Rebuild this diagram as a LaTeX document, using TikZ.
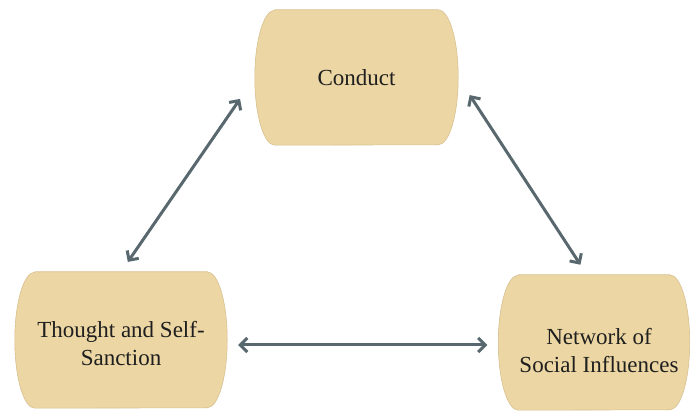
\documentclass[tikz,border=0pt]{standalone}
\usepackage{fontspec}
\setmainfont{Liberation Serif}
\usetikzlibrary{arrows.meta}
\definecolor{paper}{RGB}{236,214,163}
\definecolor{paperedge}{RGB}{218,195,146}
\definecolor{slate}{RGB}{88,104,110}
\tikzset{
  box/.style={minimum width=#1, inner sep=0pt, align=center, minimum height=135pt,
    font=\fontsize{23}{28}\selectfont, text=black!88},
  link/.style={draw=slate, line width=3pt,
    {Straight Barb[length=7pt,width=14pt,line width=3pt]}-{Straight Barb[length=7pt,width=14pt,line width=3pt]}},
  barrelfill/.style={fill=paper, draw=paperedge, line width=0.6pt},
  barrelshadow/.style={fill=black, opacity=0.16}
}
% box with straight top and bottom and half-elliptic left and right sides,
% drawn around a named node (#3 = half height)
\newcommand\barrelshape[3]{%
  \path[#2] ([xshift=20pt]#1.north west) -- ([xshift=-20pt]#1.north east)
    arc[start angle=90, end angle=-90, x radius=20pt, y radius=#3]
    -- ([xshift=20pt]#1.south west)
    arc[start angle=270, end angle=90, x radius=20pt, y radius=#3] -- cycle;}
\begin{document}
\begin{tikzpicture}[x=1pt,y=1pt]
  \useasboundingbox (0,0) rectangle (691,419);
  \fill[white] (0,0) rectangle (691,419);

  \node[box=203pt] (conduct) at (356.5,341.5) {};
  \node[box=212pt, minimum height=136pt] (thought) at (121,79) {};
  \node[box=191pt] (network) at (594,76.5) {};

  \begin{scope}[shift={(1.5pt,-2.5pt)}]
    \barrelshape{conduct}{barrelshadow}{67.5pt}
    \barrelshape{thought}{barrelshadow}{68pt}
    \barrelshape{network}{barrelshadow}{67.5pt}
  \end{scope}
  \barrelshape{conduct}{barrelfill}{67.5pt}
  \barrelshape{thought}{barrelfill}{68pt}
  \barrelshape{network}{barrelfill}{67.5pt}

  \node[box=203pt] at (conduct) {Conduct};
  \node[box=212pt, minimum height=136pt] at ([yshift=-4pt]thought.center) {Thought and Self-\\Sanction};
  \node[box=191pt] at ([xshift=5pt,yshift=-8pt]network.center) {Network of\\Social Influences};

  \draw[link, shorten <=26pt, shorten >=12pt] (conduct.west) -- (thought.north);
  \draw[link, shorten <=21pt, shorten >=12pt] (conduct.east) -- ([xshift=-7pt]network.north);
  \draw[link, shorten <=11pt, shorten >=11pt] ([yshift=-5pt]thought.east) -- ([yshift=-5pt]thought.east -| network.west);
\end{tikzpicture}
\end{document}
